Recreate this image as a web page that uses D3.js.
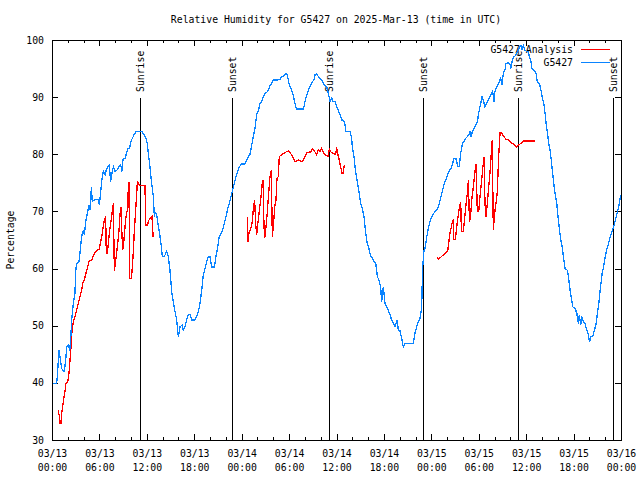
<!DOCTYPE html>
<html>
<head>
<meta charset="utf-8">
<script src="https://cdn.jsdelivr.net/npm/d3@7"></script>
<style>
  html, body { margin: 0; padding: 0; background: #fff; }
  svg { display: block; }
  text { font-family: "DejaVu Sans Mono", "Liberation Mono", monospace; font-size: 9.8px; fill: #000; }
</style>
</head>
<body>
<div id="chart"></div>
<script>
// ---------------- DATA ----------------
const titleText = "Relative Humidity for G5427 on 2025-Mar-13 (time in UTC)";
const yLabelText = "Percentage";
const seriesNames = ["G5427 Analysis", "G5427"];

// hours since 2025-03-13 00:00 UTC
const xTickHours = [0, 6, 12, 18, 24, 30, 36, 42, 48, 54, 60, 66, 72];
const xTickDates = ["03/13","03/13","03/13","03/13","03/14","03/14","03/14","03/14","03/15","03/15","03/15","03/15","03/16"];
const xTickTimes = ["00:00","06:00","12:00","18:00","00:00","06:00","12:00","18:00","00:00","06:00","12:00","18:00","00:00"];
const xMinorHours = [0,2,4,6,8,10,12,14,16,18,20,22,24,26,28,30,32,34,36,38,40,42,44,46,48,50,52,54,56,58,60,62,64,66,68,70,72];
const yTicks = [30, 40, 50, 60, 70, 80, 90, 100];

const eventHours  = [11.17, 22.82, 35.09, 46.9, 59.0, 70.95];
const eventLabels = ["Sunrise", "Sunset", "Sunrise", "Sunset", "Sunrise", "Sunset"];

// G5427 observations
const obsHours = [0.08,0.59,0.67,0.89,1.01,1.22,1.43,1.56,1.73,1.86,2.11,2.24,2.36,2.49,2.70,2.91,2.99,3.12,3.42,3.54,3.75,3.96,4.09,4.26,4.47,4.68,4.85,4.98,5.10,5.31,5.65,5.86,5.99,6.16,6.37,6.50,6.71,6.92,7.25,7.42,7.55,7.76,7.97,8.27,8.48,8.69,8.86,8.98,9.28,9.41,9.62,9.83,9.96,10.17,10.38,10.63,11.39,11.64,11.89,12.06,12.19,12.40,12.61,12.82,12.95,13.07,13.25,13.46,13.58,13.79,13.96,14.21,14.51,14.72,14.93,15.14,15.35,15.56,15.78,15.99,16.20,16.45,16.62,16.83,17.04,17.25,17.46,17.67,18.09,18.31,18.52,18.73,18.94,19.15,19.36,19.57,19.78,19.99,20.20,20.54,20.75,20.96,21.17,21.34,21.60,21.80,22.02,22.23,22.44,22.65,22.86,23.07,23.28,23.49,23.70,24.00,24.42,24.64,24.84,25.05,25.27,25.47,25.69,25.90,26.10,26.32,26.53,26.74,26.95,27.16,27.37,27.58,27.79,28.00,28.43,28.85,29.06,29.27,29.48,29.70,29.82,30.03,30.24,30.45,30.66,30.83,30.96,31.80,31.93,32.10,32.31,32.52,32.73,32.94,33.15,33.28,33.49,33.70,33.91,34.12,34.33,34.54,34.76,34.96,35.18,35.39,35.60,35.81,36.02,36.23,36.44,36.66,36.78,37.00,37.20,37.71,37.92,38.00,38.21,38.40,38.60,38.84,39.06,39.27,39.48,39.69,39.90,40.11,40.32,40.53,40.74,40.96,41.17,41.37,41.59,41.71,41.92,42.14,42.35,42.55,42.77,42.98,43.19,43.40,43.69,43.82,44.03,44.24,44.45,44.67,45.72,45.93,46.14,46.35,46.56,46.73,46.82,46.86,46.94,47.07,47.20,47.41,47.62,47.83,48.04,48.25,48.46,48.76,49.00,49.22,49.43,49.64,49.85,50.07,50.27,50.49,50.70,50.87,51.12,51.34,51.54,51.72,51.93,52.14,52.36,52.56,52.77,52.90,53.03,53.20,53.40,53.61,53.82,54.03,54.25,54.41,54.58,54.79,55.00,55.21,55.42,55.64,55.76,55.93,55.98,56.18,56.39,56.60,56.77,56.94,57.11,57.32,57.45,57.74,57.95,58.04,58.17,58.37,58.59,58.80,59.00,59.22,59.34,59.45,59.64,59.85,60.07,60.27,60.40,60.57,60.74,60.99,61.24,61.41,61.67,61.88,62.05,62.23,62.39,62.52,62.69,62.86,63.01,63.18,63.31,63.49,63.65,63.87,64.03,64.20,64.38,64.55,64.71,64.93,65.22,65.40,65.56,65.73,65.90,66.19,66.41,66.60,66.73,66.90,67.03,67.24,67.45,67.67,67.88,68.01,68.22,68.43,68.64,68.85,69.02,69.24,69.41,69.62,69.79,70.00,70.22,70.43,70.64,70.86,71.07,71.28,71.50,71.71,71.92,72.00];
const obsValues = [39.9,39.9,41.1,45.7,44.6,42.5,42.1,42.1,44.0,46.3,46.6,45.6,47.5,51.0,53.9,55.7,59.5,60.9,61.2,62.7,65.6,66.7,65.9,68.2,69.7,71.1,70.2,74.3,71.7,72.0,72.1,72.0,71.1,73.5,76.2,77.0,76.4,77.5,78.1,75.2,76.4,77.8,77.0,77.3,77.9,78.1,77.0,79.1,79.3,80.2,81.0,81.0,82.2,82.8,83.4,84.0,84.0,83.4,82.8,81.8,80.2,77.8,74.9,72.6,69.1,69.8,69.4,67.3,66.5,64.4,62.1,62.1,63.0,62.1,59.7,56.0,54.2,52.5,51.0,48.1,49.8,50.1,49.2,49.8,51.0,52.0,52.0,51.0,51.0,51.6,52.5,53.9,56.2,58.9,60.0,61.2,62.0,62.0,60.3,60.3,62.1,63.8,65.6,66.0,66.8,67.9,69.1,70.5,71.4,72.6,73.7,74.9,76.1,77.0,77.8,78.3,78.3,79.0,79.6,80.0,81.6,83.1,84.6,87.0,87.5,88.9,89.2,90.1,90.7,90.8,91.2,92.0,92.4,93.0,93.0,93.1,93.6,93.6,94.0,94.1,93.6,92.1,91.5,90.7,89.5,88.3,87.9,87.9,88.6,89.8,90.7,91.5,92.1,92.7,93.0,93.9,94.1,93.6,93.3,93.0,92.4,92.1,91.8,90.7,89.2,89.8,89.2,89.2,88.3,87.7,86.9,86.0,86.0,85.7,84.0,84.0,82.8,81.3,79.6,77.2,75.5,73.5,71.4,70.5,69.1,66.2,64.4,63.5,62.1,61.9,61.2,61.0,58.6,58.0,56.8,54.2,56.8,53.9,53.3,52.7,51.9,51.0,50.4,49.8,51.0,49.2,49.1,47.8,46.3,46.9,46.9,48.7,49.8,50.7,51.3,52.7,55.1,58.6,60.9,63.2,63.5,65.5,67.0,68.2,69.0,69.5,70.0,70.4,71.4,72.6,73.7,74.9,75.5,76.4,77.2,77.5,78.4,79.3,79.2,77.9,77.9,80.2,81.9,82.2,82.8,83.1,83.4,84.1,83.1,84.0,84.5,85.1,85.7,87.5,88.9,90.1,89.5,88.3,88.9,89.5,90.1,90.7,91.0,89.2,90.7,91.5,92.1,92.7,93.3,92.1,94.2,94.8,95.9,96.0,95.8,95.0,95.9,97.0,97.2,97.7,98.3,98.8,99.1,98.2,99.1,98.2,98.0,98.0,97.1,96.5,95.0,94.7,94.2,92.7,92.4,91.2,89.8,88.9,87.2,85.4,83.7,81.9,80.8,79.0,77.2,74.9,73.2,71.4,69.1,67.0,65.0,63.8,62.1,60.0,59.7,58.0,56.2,54.8,53.3,53.0,52.2,50.4,51.9,50.1,51.6,50.7,50.4,49.2,48.4,47.2,48.1,48.2,49.2,50.4,52.2,54.5,56.8,59.2,60.3,62.1,63.5,64.4,65.6,66.5,67.3,68.5,69.7,70.8,72.6,72.8];

// G5427 Analysis (null = gap)
const anaHours = [0.80,0.93,1.01,1.13,1.22,1.35,1.52,1.64,1.77,1.98,2.15,2.28,2.36,2.44,2.57,2.70,2.91,3.12,3.33,3.54,3.75,3.88,4.09,4.30,4.51,4.72,5.02,5.23,5.44,5.65,5.99,6.16,6.37,6.50,6.62,6.79,6.87,7.00,7.13,7.25,7.42,7.55,7.67,7.76,7.89,8.01,8.18,8.31,8.48,8.60,8.73,8.82,8.94,9.07,9.24,9.36,9.53,9.66,9.74,9.83,10.04,10.17,10.30,10.42,10.59,10.72,10.80,10.92,11.13,11.77,11.85,12.06,12.27,12.65,12.80,
  18.0,
  24.72,24.80,24.97,25.10,25.31,25.47,25.64,25.77,25.90,26.05,26.24,26.41,26.57,26.70,26.83,26.91,27.08,27.25,27.42,27.58,27.75,27.88,28.01,28.18,28.34,28.47,28.64,28.76,29.06,29.48,29.90,30.33,30.75,31.17,31.60,31.80,32.01,32.22,32.52,32.73,32.94,33.28,33.49,33.70,33.91,34.12,34.33,34.54,34.96,35.09,35.30,35.51,35.89,36.02,36.18,36.35,36.52,36.69,36.85,36.98,
  42.0,
  48.76,48.89,49.20,49.52,49.85,50.07,50.19,50.36,50.53,50.66,50.75,50.83,51.04,51.21,51.38,51.54,51.72,51.80,52.06,52.23,52.40,52.56,52.69,52.82,52.94,53.11,53.32,53.53,53.66,53.82,54.00,54.16,54.33,54.50,54.67,54.79,54.92,55.09,55.26,55.42,55.59,55.71,55.84,56.01,56.18,56.35,56.52,56.69,56.90,57.19,57.45,57.74,57.95,58.37,58.80,59.22,59.64,61.10];
const anaValues = [35.2,34.1,32.9,32.9,34.7,35.8,37.6,38.5,39.9,40.1,41.7,44.0,45.2,47.5,49.5,50.7,51.6,52.7,53.9,55.1,56.2,57.4,58.0,59.2,60.3,61.4,61.5,62.2,62.8,63.2,63.4,64.7,66.2,67.6,68.5,69.1,62.7,62.7,64.4,66.2,67.9,69.1,70.5,71.4,59.5,60.9,62.7,64.4,66.7,69.4,70.8,67.0,63.2,64.4,67.3,69.1,70.2,74.0,75.2,58.3,58.3,60.3,63.2,66.7,70.2,73.2,75.2,74.9,74.6,74.5,67.6,67.6,68.5,69.1,65.6,
  null,
  69.1,64.7,66.7,66.7,67.9,70.2,72.0,67.9,65.9,67.9,70.2,72.0,74.6,75.5,67.3,65.3,67.3,70.0,73.2,76.1,77.2,65.6,67.3,70.8,72.0,75.8,76.1,79.6,79.9,80.3,80.6,79.9,78.7,79.0,78.7,79.0,79.6,80.2,80.4,80.4,81.0,80.4,79.9,80.8,80.4,81.0,80.3,79.9,79.6,80.9,80.4,80.2,80.0,81.2,79.9,79.0,77.8,76.7,76.7,78.1,
  null,
  62.0,61.6,62.0,62.4,62.8,63.0,64.4,66.2,67.3,68.2,68.4,65.1,65.1,67.3,69.1,70.5,71.7,66.5,66.5,69.1,71.4,73.2,75.5,68.2,68.8,72.0,74.3,77.0,78.3,70.0,70.0,72.6,74.9,77.5,79.5,71.4,69.1,71.4,74.3,76.7,80.2,82.5,66.8,69.7,71.4,73.5,79.6,83.7,83.7,83.1,82.6,82.5,82.2,81.8,81.3,81.8,82.3,82.3];

// ---------------- CHART ----------------
const W = 640, H = 480;
const L = 52, R = 621, T = 40, B = 440;
const colors = { analysis: "#ff0000", obs: "#0a84ff" };

const svg = d3.select("#chart").append("svg")
  .attr("width", W).attr("height", H)
  .attr("viewBox", `0 0 ${W} ${H}`);

const x = d3.scaleLinear().domain([0, 72]).range([L, R]);
const y = d3.scaleLinear().domain([30, 100]).range([B, T]);

// title
svg.append("text").attr("x", 336).attr("y", 23).attr("text-anchor", "middle").text(titleText);

// y label
svg.append("text")
  .attr("transform", `translate(14,${(T + B) / 2}) rotate(-90)`)
  .attr("text-anchor", "middle").text(yLabelText);

function styleAxis(g) {
  g.select(".domain").remove();
  g.selectAll("line").attr("stroke", "#000").attr("shape-rendering", "crispEdges");
  g.selectAll("text").attr("font-family", null).attr("font-size", null);
}

// x minor ticks bottom/top
svg.append("g").attr("transform", `translate(0,${B})`)
  .call(d3.axisBottom(x).tickValues(xMinorHours).tickSize(-3).tickFormat(""))
  .call(styleAxis);
svg.append("g").attr("transform", `translate(0,${T})`)
  .call(d3.axisTop(x).tickValues(xMinorHours).tickSize(-3).tickFormat(""))
  .call(styleAxis);
// x major ticks bottom/top
const xb = svg.append("g").attr("transform", `translate(0,${B})`)
  .call(d3.axisBottom(x).tickValues(xTickHours).tickSize(-6).tickFormat(""))
  .call(styleAxis);
svg.append("g").attr("transform", `translate(0,${T})`)
  .call(d3.axisTop(x).tickValues(xTickHours).tickSize(-6).tickFormat(""))
  .call(styleAxis);
// two-line x labels
xb.selectAll(".tick").each(function(d, i) {
  const t = d3.select(this).append("text").attr("text-anchor", "middle");
  t.append("tspan").attr("x", 0).attr("y", 17).text(xTickDates[i]);
  t.append("tspan").attr("x", 0).attr("y", 31).text(xTickTimes[i]);
});

// y ticks
svg.append("g").attr("transform", `translate(${L},0)`)
  .call(d3.axisLeft(y).tickValues(yTicks).tickSize(-6).tickPadding(8).tickFormat(d3.format("d")))
  .call(styleAxis);
svg.append("g").attr("transform", `translate(${R},0)`)
  .call(d3.axisRight(y).tickValues(yTicks).tickSize(-6).tickFormat(""))
  .call(styleAxis);

// border
svg.append("rect").attr("x", L + 0.5).attr("y", T + 0.5)
  .attr("width", R - L).attr("height", B - T)
  .attr("fill", "none").attr("stroke", "#000").attr("shape-rendering", "crispEdges");

// sunrise / sunset lines
const ev = svg.append("g");
eventHours.forEach((h, i) => {
  const xx = Math.round(x(h)) + 0.5;
  ev.append("line").attr("x1", xx).attr("x2", xx).attr("y1", 98).attr("y2", B)
    .attr("stroke", "#000").attr("stroke-width", 1.2).attr("shape-rendering", "crispEdges");
  ev.append("text").attr("transform", `translate(${xx + 3.5},92) rotate(-90)`)
    .attr("text-anchor", "start").text(eventLabels[i]);
});

// legend
const legY = [49.5, 62.5];
const legColors = [colors.analysis, colors.obs];
seriesNames.forEach((n, i) => {
  svg.append("text").attr("x", 573).attr("y", legY[i]).attr("dy", "0.35em")
    .attr("text-anchor", "end").text(n);
  svg.append("line").attr("x1", 581).attr("x2", 610).attr("y1", legY[i]).attr("y2", legY[i])
    .attr("stroke", legColors[i]).attr("stroke-width", 1).attr("shape-rendering", "crispEdges");
});

// series
const anaData = anaHours.map((h, i) => ({ h, v: anaValues[i] }));
const obsData = obsHours.map((h, i) => ({ h, v: obsValues[i] }));
const line = d3.line().defined(d => d.v !== null).x(d => x(d.h)).y(d => y(d.v));

svg.append("path").datum(anaData).attr("d", line)
  .attr("fill", "none").attr("stroke", colors.analysis).attr("stroke-width", 1.3)
  .attr("shape-rendering", "crispEdges");
svg.append("path").datum(obsData).attr("d", line)
  .attr("fill", "none").attr("stroke", colors.obs).attr("stroke-width", 1.3)
  .attr("shape-rendering", "crispEdges");
</script>
</body>
</html>
